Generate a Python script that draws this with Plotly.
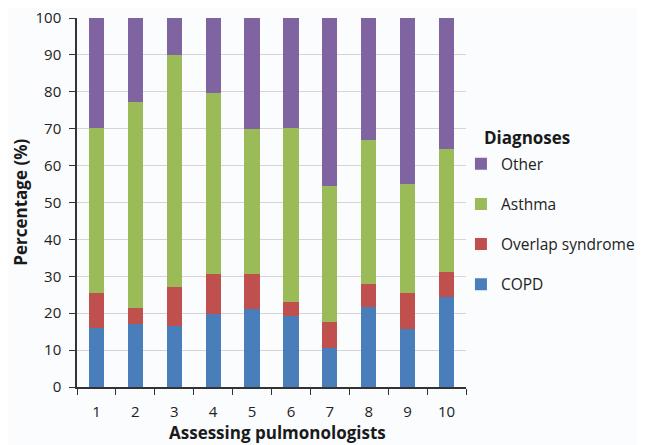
import plotly.graph_objects as go

categories = ["1", "2", "3", "4", "5", "6", "7", "8", "9", "10"]
copd = [16.0, 17.2, 16.6, 19.9, 21.2, 19.2, 10.6, 21.7, 15.7, 24.4]
overlap = [9.6, 4.3, 10.6, 10.8, 9.3, 3.8, 7.0, 6.3, 9.9, 6.8]
asthma = [44.7, 55.8, 62.8, 48.9, 39.3, 47.3, 36.9, 38.9, 29.5, 33.4]
other = [29.7, 22.7, 10.0, 20.4, 30.2, 29.7, 45.5, 33.1, 44.9, 35.4]
y_ticks = [0, 10, 20, 30, 40, 50, 60, 70, 80, 90, 100]

series = [
    ("COPD", copd, "#4a7ebb", 4),
    ("Overlap syndrome", overlap, "#c0504d", 3),
    ("Asthma", asthma, "#9bbb59", 2),
    ("Other", other, "#8064a2", 1),
]

font_family = "'Open Sans', sans-serif"
title_font = dict(size=17, color="#1a1a1a")

fig = go.Figure()
for name, vals, color, rank in series:
    fig.add_trace(go.Bar(
        x=categories, y=vals, name=name, legendgroup=name, legendrank=rank,
        marker=dict(color=color, line=dict(width=0)),
    ))

fig.add_annotation(
    text="<b>Diagnoses</b>", xref="paper", yref="paper",
    x=1.041, y=0.675, xanchor="left", yanchor="middle", showarrow=False,
    font=title_font,
)
fig.add_annotation(
    text="<b>Assessing pulmonologists</b>", xref="paper", yref="paper",
    x=0.516, y=-0.123, xanchor="center", yanchor="middle", showarrow=False,
    font=title_font,
)
fig.add_annotation(
    text="<b>Percentage (%)</b>", xref="paper", yref="paper", textangle=-90,
    x=-0.146, y=0.5, xanchor="center", yanchor="middle", showarrow=False,
    font=title_font,
)

fig.update_layout(
    width=637, height=437,
    barmode="stack", bargap=0.61,
    paper_bgcolor="#fbfcfe", plot_bgcolor="#fbfcfe",
    margin=dict(l=69, r=179, t=10, b=58, autoexpand=False),
    font=dict(family=font_family, size=15, color="#222222"),
    showlegend=True,
    legend=dict(
        traceorder="grouped", tracegroupgap=17,
        x=0.987, xanchor="left", y=0.650, yanchor="top",
        bgcolor="rgba(0,0,0,0)", font=dict(size=15.5, color="#222222"),
        itemwidth=30,
    ),
    xaxis=dict(
        automargin=False, ticklabelstandoff=10, ticklabeloverflow="allow",
        showline=True, linecolor="#333333", linewidth=1.5,
        ticks="outside", ticklen=6, tickcolor="#333333", tickson="boundaries",
        showgrid=False, tickfont=dict(size=15),
    ),
    yaxis=dict(
        automargin=False, ticklabelstandoff=5, ticklabeloverflow="allow",
        range=[0, 100], tickvals=y_ticks,
        showline=True, linecolor="#333333", linewidth=1.5,
        ticks="outside", ticklen=6, tickcolor="#333333",
        showgrid=True, gridcolor="#d9d3d6", gridwidth=1,
        zeroline=False, tickfont=dict(size=15),
    ),
)

fig.write_html("out.html")
